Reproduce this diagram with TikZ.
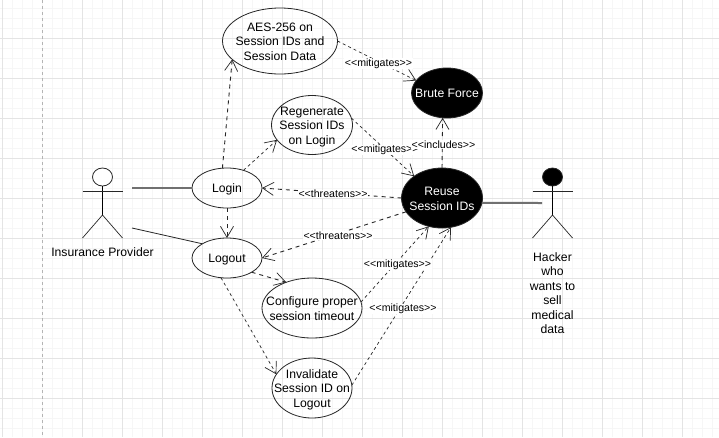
\documentclass[tikz,border=0pt]{standalone}
\usepackage{fontspec}
\setmainfont{Liberation Sans}
\usetikzlibrary{shapes.geometric, arrows.meta}
\definecolor{gridmajor}{HTML}{E4E4E4}
\definecolor{gridminor}{HTML}{F6F6F6}
\definecolor{gridpage}{HTML}{B4B4B4}
\definecolor{assocgray}{HTML}{707070}
\newcommand{\casetext}[1]{\makebox[0pt]{\smash{\raisebox{-5pt}{\begin{tabular}[c]{@{}c@{}}#1\end{tabular}}}}}
\tikzset{
  usecase/.style={ellipse, draw=black!85, line width=0.8pt, inner sep=0pt, outer sep=0pt,
                  font=\fontsize{12.2}{14.4}\selectfont},
  threat/.style={usecase, fill=black, text=white},
  openhead/.style={-{Straight Barb[length=11pt,width=13pt,line width=0.7pt]}},
  depline/.style={openhead, black!85, line width=0.7pt, dash pattern=on 3pt off 3pt},
  boldline/.style={depline, line width=0.9pt, dash pattern=on 4pt off 4pt},
  assocline/.style={assocgray, line width=2pt},
  stereo/.style={fill=white, inner sep=0.5pt, font=\fontsize{10.6}{12}\selectfont},
  actorname/.style={align=center, inner sep=0pt, font=\fontsize{12.2}{14.4}\selectfont},
}
\begin{document}
\begin{tikzpicture}[x=1pt, y=-1pt]
  \useasboundingbox (0,0) rectangle (719,437);
  \fill[white] (0,0) rectangle (719,437);
  %% grid
  \foreach \gx in {2.5,12.5,...,712.5}
    \draw[gridminor, line width=1pt] (\gx,0) -- (\gx,437);
  \foreach \gy in {8.5,18.5,...,428.5}
    \draw[gridminor, line width=1pt] (0,\gy) -- (719,\gy);
  \foreach \gx in {2.5,82.5,122.5,...,702.5}
    \draw[gridmajor, line width=1pt] (\gx,0) -- (\gx,437);
  \foreach \gy in {38.5,78.5,...,398.5}
    \draw[gridmajor, line width=1pt] (0,\gy) -- (719,\gy);
  \draw[gridpage, line width=1pt, dashed] (42.5,0) -- (42.5,437);
  %% use cases
  \node[usecase, minimum width=115pt, minimum height=66pt] (aes) at (280,41)
    {\casetext{AES-256 on\\Session IDs and\\Session Data}};
  \node[usecase, minimum width=81pt, minimum height=59pt] (regen) at (312,125)
    {\casetext{Regenerate\\Session IDs\\on Login}};
  \node[usecase, minimum width=70pt, minimum height=40pt] (login) at (227,188)
    {\casetext{Login}};
  \node[usecase, minimum width=70pt, minimum height=40pt] (logout) at (227,258)
    {\casetext{Logout}};
  \node[usecase, minimum width=100pt, minimum height=60pt] (timeout) at (312,308)
    {\casetext{Configure proper\\session timeout}};
  \node[usecase, minimum width=80pt, minimum height=60pt] (invalidate) at (312,388)
    {\casetext{Invalidate\\Session ID on\\Logout}};
  %% threats
  \node[threat, minimum width=71pt, minimum height=50pt] (brute) at (447,93)
    {\casetext{Brute Force}};
  \node[threat, minimum width=81pt, minimum height=60pt] (reuse) at (442,198)
    {\casetext{Reuse\\Session IDs}};
  %% actors
  \foreach \actname/\actx/\actfill in {prov/102.5/white, hack/552.5/black} {
    \node[ellipse, draw=black!85, fill=\actfill, line width=0.8pt, inner sep=0pt,
          minimum width=20pt, minimum height=18pt] (\actname head) at (\actx,177) {};
    \coordinate (\actname hip) at (\actx,215);
    \draw[black, line width=0.8pt] (\actname head.south) -- (\actname hip);
    \draw[black!85, line width=0.8pt] (\actx-20,191.5) -- (\actx+20,191.5);
    \draw[black!85, line width=0.7pt] (\actx-20,238) -- (\actname hip) -- (\actx+20,238);
  }
  \node[actorname] (provname) at (102.5,252) {Insurance Provider};
  \node[actorname, anchor=north] (hackname) at (552.5,252.5)
    {Hacker\\who\\wants to\\sell\\medical\\data};
  %% associations
  \coordinate (provgrip) at (132,188);
  \coordinate (provlow) at (132,228);
  \coordinate (hackgrip) at (542,203);
  \draw[assocline] (provgrip) -- (login.west);
  \draw[black!85, line width=0.8pt] (provlow) -- (logout.150);
  \draw[assocline] (reuse.-7) -- (hackgrip);
  %% dependencies
  \draw[boldline] (login.103) -- (aes.201);
  \draw[depline] (login.47) -- (regen.203);
  \draw[boldline] (login.south) -- (logout.north);
  \draw[boldline] (logout.330) -- (timeout.135);
  \draw[depline] (logout.253) -- (invalidate.159);
  \draw[boldline] (reuse.west) -- (login.east);
  \draw[boldline] (reuse.201) -- (logout.east);
  \draw[boldline] (reuse.north) -- (brute.260);
  \draw[depline] (aes.east) -- (brute.158);
  \draw[depline] (regen.10) -- (reuse.142);
  \draw[depline] (timeout.7) -- (reuse.245);
  \draw[depline] (invalidate.4) -- (reuse.287);
  %% stereotypes
  \node[stereo] (mitaes) at (378.5,63.5) {<{}<mitigates>{}>};
  \node[stereo] (mitregen) at (385,150) {<{}<mitigates>{}>};
  \node[stereo] (includes) at (443.5,144.5) {<{}<includes>{}>};
  \node[stereo] (thrlogin) at (333,194) {<{}<threatens>{}>};
  \node[stereo] (thrlogout) at (338,235.5) {<{}<threatens>{}>};
  \node[stereo] (mittimeout) at (397.5,264.5) {<{}<mitigates>{}>};
  \node[stereo] (mitinval) at (403,309) {<{}<mitigates>{}>};
\end{tikzpicture}
\end{document}
